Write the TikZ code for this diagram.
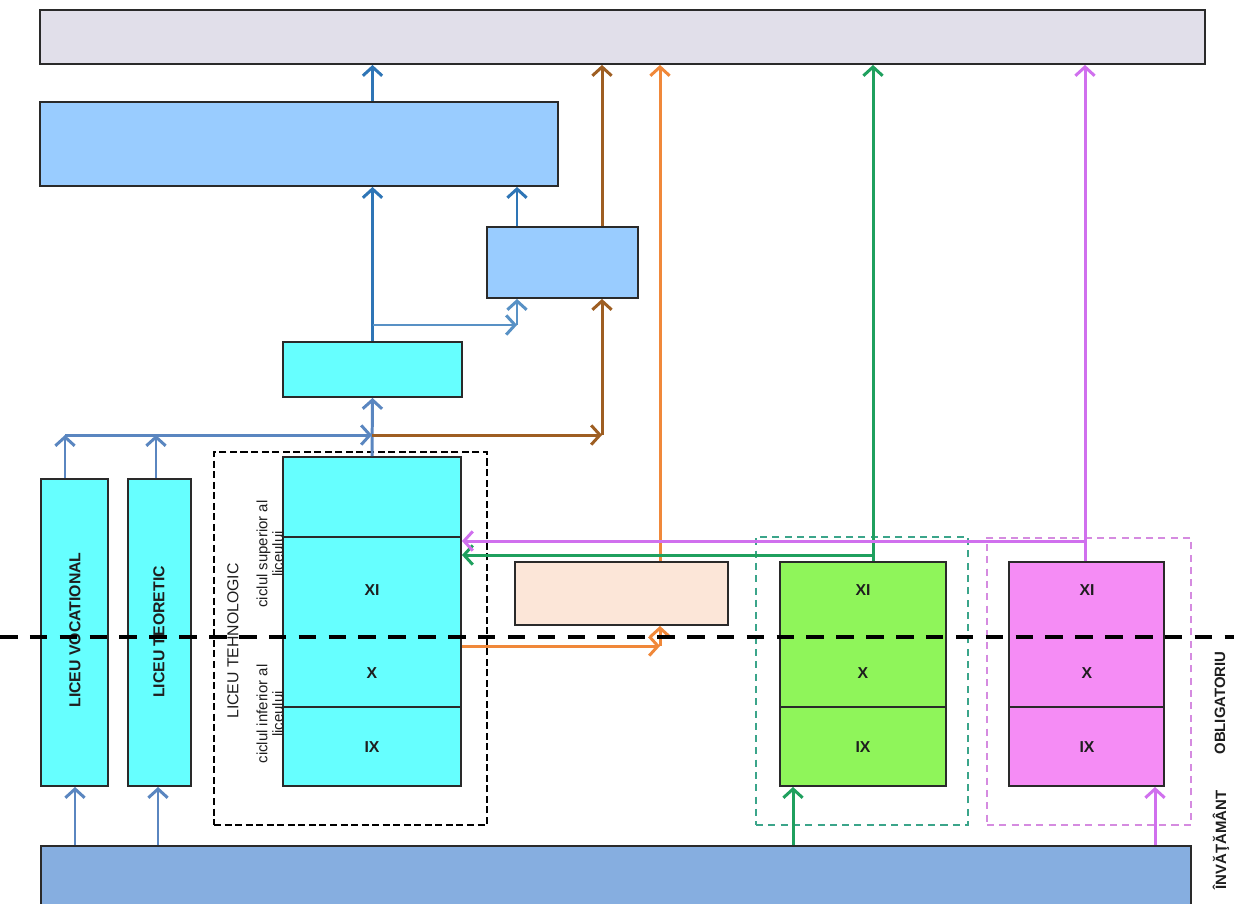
\documentclass[tikz,border=0pt]{standalone}
\usepackage{fontspec}
\setmainfont{Liberation Sans}
\usetikzlibrary{arrows.meta,fit,calc}
\definecolor{topfill}{HTML}{E1DFEA}
\definecolor{bluefill}{HTML}{99CCFF}
\definecolor{cyanfill}{HTML}{66FFFF}
\definecolor{peachfill}{HTML}{FCE6D8}
\definecolor{greenfill}{HTML}{8FF55A}
\definecolor{pinkfill}{HTML}{F58CF5}
\definecolor{basefill}{HTML}{86AEE0}
\definecolor{arrblue}{HTML}{2E75B6}
\definecolor{arrsteel}{HTML}{5A86C0}
\definecolor{arrbrown}{HTML}{9E5E22}
\definecolor{arrorange}{HTML}{F0883A}
\definecolor{arrgreen}{HTML}{1FA05E}
\definecolor{arrmag}{HTML}{D070EE}
\definecolor{edge}{HTML}{2A2A2A}
\definecolor{txt}{HTML}{1E1E1E}
\definecolor{gdash}{HTML}{3BA58A}
\definecolor{pdash}{HTML}{D58BE0}
\begin{document}
\begin{tikzpicture}[x=0.02cm,y=-0.02cm,
  box/.style={draw=edge, line width=1.1pt, inner sep=0pt},
  conn/.style={line width=1.7pt, -{Straight Barb[length=5pt,width=11pt,line width=1.7pt]}},
  plain/.style={line width=1.7pt},
  numlab/.style={font=\bfseries\fontsize{9}{10}\selectfont, text=txt},
  vlab/.style={rotate=90, font=\bfseries\fontsize{9}{10}\selectfont, text=txt},
  clab/.style={rotate=90, align=center, font=\fontsize{8.5}{9}\selectfont, text=txt},
  sectline/.style={draw=edge, line width=1.1pt}]
\useasboundingbox (0,0) rectangle (1234,903);
\fill[white] (0,0) rectangle (1234,903);

% boxes
\node[box, fill=topfill, fit={(40,10) (1205,64)}] (top) {};
\node[box, fill=bluefill, fit={(40,102) (558,186)}] (big) {};
\node[box, fill=bluefill, fit={(487,227) (638,298)}] (sb) {};
\node[box, fill=cyanfill, fit={(283,342) (462,397)}] (cy) {};
\node[box, fill=cyanfill, fit={(283,457) (461,786)}] (tech) {};
\node[box, fill=cyanfill, fit={(41,479) (108,786)}] (voc) {};
\node[box, fill=cyanfill, fit={(128,479) (191,786)}] (teo) {};
\node[box, fill=peachfill, fit={(515,562) (728,625)}] (peach) {};
\node[box, fill=greenfill, fit={(780,562) (946,786)}] (grn) {};
\node[box, fill=pinkfill, fit={(1009,562) (1164,786)}] (pnk) {};
\node[box, fill=basefill, fit={(41,846) (1191,915)}] (base) {};

% dashed groups
\node[draw=black, line width=1.1pt, dash pattern=on 4pt off 2pt, inner sep=0pt, fit={(214,452) (487,825)}] (techgrp) {};
\node[draw=gdash, line width=0.8pt, dash pattern=on 4pt off 3pt, inner sep=0pt, fit={(756,537) (968,825)}] (grngrp) {};
\node[draw=pdash, line width=0.8pt, dash pattern=on 4pt off 3pt, inner sep=0pt, fit={(987,538) (1191,825)}] (pnkgrp) {};

% section lines
\coordinate (yA) at (0,537);
\coordinate (yB) at (0,707);
\draw[sectline] (tech.west |- yA) -- (tech.east |- yA);
\draw[sectline] (tech.west |- yB) -- (tech.east |- yB);
\draw[sectline] (grn.west |- yB) -- (grn.east |- yB);
\draw[sectline] (pnk.west |- yB) -- (pnk.east |- yB);

% roman numerals
\node[numlab] (tXI) at (372,590) {XI};
\node[numlab] (tX) at (372,673) {X};
\node[numlab] (tIX) at (372,747) {IX};
\node[numlab] (gXI) at (863,590) {XI};
\node[numlab] (gX) at (863,673) {X};
\node[numlab] (gIX) at (863,747) {IX};
\node[numlab] (pXI) at (1087,590) {XI};
\node[numlab] (pX) at (1087,673) {X};
\node[numlab] (pIX) at (1087,747) {IX};

% vertical labels
\node[vlab] (vocT) at (75,630) {LICEU VOCATIONAL};
\node[vlab] (teoT) at (159,632) {LICEU TEORETIC};
\node[rotate=90, font=\fontsize{9}{10}\selectfont, text=txt] (tehT) at (233,641) {LICEU TEHNOLOGIC};
\node[clab] (supT) at (270,554) {ciclul superior al\\liceului};
\node[clab] (infT) at (270,714) {ciclul inferior al\\liceului};
\node[vlab, font=\bfseries\fontsize{8.5}{10}\selectfont] (oblT) at (1220,703) {OBLIGATORIU};
\node[vlab, font=\bfseries\fontsize{8.5}{10}\selectfont] (invT) at (1221,840) {ÎNVĂŢĂMÂNT};

% named x positions
\coordinate (xb1) at (65,0);
\coordinate (xb2) at (156,0);
\coordinate (xd1) at (75,0);
\coordinate (xd2) at (158,0);
\coordinate (xs) at (517,0);
\coordinate (xbr) at (602,0);
\coordinate (xor) at (660,0);
\coordinate (xgr) at (873,0);
\coordinate (xgb) at (793,0);
\coordinate (xmg) at (1085,0);
\coordinate (xmb) at (1155,0);
\coordinate (yH) at (0,435);
\coordinate (yJ) at (0,325);
\coordinate (yO) at (0,646);
\coordinate (yG) at (0,555);
\coordinate (yM) at (0,541);

% blue chain
\draw[conn, arrblue] (cy.north) -- (cy.north |- big.south);
\draw[conn, arrblue] (cy.north |- big.north) -- (cy.north |- top.south);
\draw[conn, arrblue] (sb.north -| xs) -- (xs |- big.south);
\coordinate (j1) at (cy.north |- yJ);
\coordinate (j2) at (xs |- yJ);
\draw[conn, arrblue!80!white] (j1) -- (j2);
\draw[conn, arrblue!80!white] (j2) -- (xs |- sb.south);
\draw[conn, arrsteel] (tech.north) -- (cy.south);

% left lyceum arrows
\coordinate (h1) at (xb1 |- yH);
\coordinate (h2) at (tech.north |- yH);
\draw[conn, arrsteel] (xb1 |- voc.north) -- (h1);
\draw[conn, arrsteel] (xb2 |- teo.north) -- (xb2 |- yH);
\draw[conn, arrsteel] (h1) -- (h2);
\draw[conn, arrsteel] (xd1 |- base.north) -- (xd1 |- voc.south);
\draw[conn, arrsteel] (xd2 |- base.north) -- (xd2 |- teo.south);

% brown
\coordinate (bc) at (xbr |- yH);
\draw[conn, arrbrown] (h2) -- (bc);
\draw[conn, arrbrown] (bc) -- (xbr |- sb.south);
\draw[conn, arrbrown] (xbr |- sb.north) -- (xbr |- top.south);

% orange
\coordinate (oc) at (xor |- yO);
\draw[conn, arrorange] (tech.east |- yO) -- (oc);
\draw[conn, arrorange] (oc) -- (xor |- peach.south);
\draw[conn, arrorange] (xor |- peach.north) -- (xor |- top.south);

% green
\draw[conn, arrgreen] (xgr |- grn.north) -- (xgr |- top.south);
\draw[conn, arrgreen] (xgr |- yG) -- (tech.east |- yG);
\draw[conn, arrgreen] (xgb |- base.north) -- (xgb |- grn.south);

% magenta
\draw[conn, arrmag] (xmg |- pnk.north) -- (xmg |- top.south);
\draw[conn, arrmag] (xmg |- yM) -- (tech.east |- yM);
\draw[conn, arrmag] (xmb |- base.north) -- (xmb |- pnk.south);

% horizontal dashed divider
\coordinate (dL) at (0,637);
\coordinate (dR) at (1234,637);
\draw[line width=2.3pt, dash pattern=on 10pt off 7pt] (dL) -- (dR);
\end{tikzpicture}
\end{document}
